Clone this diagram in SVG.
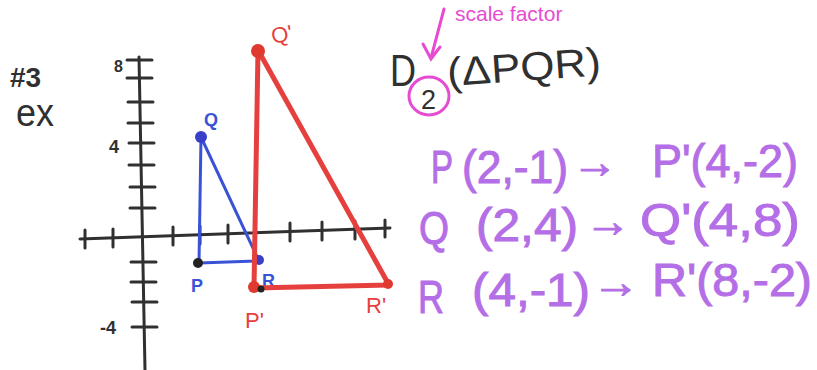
<svg xmlns="http://www.w3.org/2000/svg" width="817" height="370" viewBox="0 0 817 370">
<style>
.ax{stroke:#303030;stroke-width:3;stroke-linecap:round;fill:none}
.blk{font-family:"Liberation Sans",Arial,sans-serif;fill:#303030}
.pur{font-family:"Liberation Sans",Arial,sans-serif;fill:#b46ee6;stroke:#b46ee6;stroke-width:1;font-size:46px}
.red{font-family:"Liberation Sans",Arial,sans-serif;fill:#e5403d;font-size:22px}
.blu{font-family:"Liberation Sans",Arial,sans-serif;fill:#3a52d6;font-size:18px;font-weight:bold}
</style>
<rect width="817" height="370" fill="#ffffff"/>
<g id="heading">
<text class="blk" x="10" y="87" font-size="28" font-weight="bold">#3</text>
<text class="blk" x="16" y="126" font-size="38" textLength="38" lengthAdjust="spacingAndGlyphs">ex</text>
</g>
<g id="axes">
<line class="ax" x1="80" y1="239" x2="390" y2="228"/>
<line class="ax" x1="139" y1="57" x2="145" y2="370"/>
<g class="ax">
<path d="M85 230v18M113 229v18M173 227v18M200 226v18M228 225v18M255 224v18M290 223v18M322 222v18M355 221v18M385 220v17"/>
<path d="M127 60h25M127 78h25M128 102h25M128 123h25M129 143h25M129 165h25M130 187h25M130 208h25M131 262h25M131 282h25M132 302h25M132 327h25"/>
</g>
<text class="blk" x="114" y="72" font-size="16" font-weight="bold">8</text>
<text class="blk" x="109" y="153" font-size="18" font-weight="bold">4</text>
<text class="blk" x="100" y="334" font-size="18" font-weight="bold">-4</text>
</g>
<g id="preimage">
<path d="M201 137L199 263L259 261Z" fill="none" stroke="#3a52d6" stroke-width="3" stroke-linejoin="round"/>
<circle cx="201" cy="137" r="6" fill="#3a3fc8"/>
<circle cx="259" cy="260" r="5" fill="#3a3fc8"/>
<circle cx="198" cy="263" r="5" fill="#222"/>
<text class="blu" x="204" y="126">Q</text>
<text class="blu" x="191" y="292">P</text>
<text class="blu" x="262" y="287">R</text>
</g>
<g id="image">
<path d="M258 50L254 288L389 285Z" fill="none" stroke="#e5403d" stroke-width="5" stroke-linejoin="round"/>
<circle cx="258" cy="51" r="7" fill="#e03a30"/>
<circle cx="254" cy="287" r="6" fill="#e03a30"/>
<circle cx="388" cy="284" r="5" fill="#e03a30"/>
<circle cx="261" cy="289" r="3.5" fill="#222"/>
<text class="red" transform="translate(273 44) rotate(-12)">Q'</text>
<text class="red" x="245" y="328">P'</text>
<text class="red" x="366" y="313">R'</text>
</g>
<g id="title">
<text x="455" y="21" font-family="Liberation Sans,Arial,sans-serif" font-size="21" fill="#e64cd2">scale factor</text>
<path d="M444 9L431 58M423 44L431 59L440 47" fill="none" stroke="#e64cd2" stroke-width="3" stroke-linecap="round"/>
<text class="blk" x="390" y="86" font-size="44" textLength="26" lengthAdjust="spacingAndGlyphs">D</text>
<ellipse cx="429" cy="96" rx="20" ry="19" fill="none" stroke="#e64cd2" stroke-width="3"/>
<text class="blk" x="421" y="109" font-size="27">2</text>
<text class="blk" transform="translate(448 86) rotate(-4)" font-size="40" textLength="154" lengthAdjust="spacingAndGlyphs">(ΔPQR)</text>
</g>
<g id="mappings">
<text class="pur" x="431" y="183" textLength="22" lengthAdjust="spacingAndGlyphs">P</text>
<text class="pur" x="462" y="183" textLength="106" lengthAdjust="spacingAndGlyphs">(2,-1)</text>
<text class="pur" x="572" y="178" textLength="46" lengthAdjust="spacingAndGlyphs">→</text>
<text class="pur" x="652" y="177" textLength="146" lengthAdjust="spacingAndGlyphs">P'(4,-2)</text>
<text class="pur" x="419" y="244" textLength="30" lengthAdjust="spacingAndGlyphs">Q</text>
<text class="pur" x="476" y="241" textLength="102" lengthAdjust="spacingAndGlyphs">(2,4)</text>
<text class="pur" x="585" y="237" textLength="46" lengthAdjust="spacingAndGlyphs">→</text>
<text class="pur" x="640" y="236" textLength="160" lengthAdjust="spacingAndGlyphs">Q'(4,8)</text>
<text class="pur" x="418" y="313" textLength="26" lengthAdjust="spacingAndGlyphs">R</text>
<text class="pur" x="472" y="306" textLength="118" lengthAdjust="spacingAndGlyphs">(4,-1)</text>
<text class="pur" x="592" y="298" textLength="48" lengthAdjust="spacingAndGlyphs">→</text>
<text class="pur" x="652" y="296" textLength="160" lengthAdjust="spacingAndGlyphs">R'(8,-2)</text>
</g>
</svg>
